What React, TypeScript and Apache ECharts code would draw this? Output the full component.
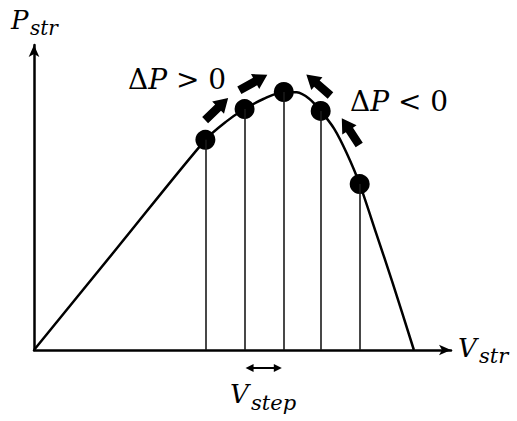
import React, { useEffect, useRef } from "react";
import * as echarts from "echarts";

// P–V curve (voltage vs power) in axis units (0..100)
const curveV = [0, 20.5, 41.1, 46, 50.5, 55, 59.9, 63, 66, 68.75, 72, 75, 78.1, 82, 86, 91.1];
const curveP = [0, 34.4, 68.9, 74.8, 79, 82.3, 84.6, 84.5, 82.4, 78.4, 72.5, 64.5, 54.4, 38.5, 22, 0];

// operating points (perturb & observe steps)
const stepV = [41.1, 50.5, 59.9, 68.75, 78.1];
const stepP = [68.9, 79.0, 84.6, 78.4, 54.4];

// direction arrows
const arrowV = [43.8, 52.6, 68.2, 75.9];
const arrowP = [79.0, 87.7, 86.9, 71.6];
const arrowAngle = [44, 29, 139, 123];

const FONT = "DejaVu Serif";

export default function App() {
  const ref = useRef<HTMLDivElement>(null);
  useEffect(() => {
    if (!ref.current) return;
    const chart = echarts.init(ref.current, null, { renderer: "svg" });
    const option: any = {
      animation: false,
      backgroundColor: "#ffffff",
      grid: { left: 34, right: 66, top: 45, bottom: 71, containLabel: false },
      xAxis: {
        type: "value",
        min: 0,
        max: 100,
        axisLine: { show: true, lineStyle: { color: "#000", width: 2.5 }, symbol: ["none", "arrow"], symbolSize: [8, 12] },
        axisTick: { show: false },
        axisLabel: { show: false },
        splitLine: { show: false },
      },
      yAxis: {
        type: "value",
        min: 0,
        max: 100,
        axisLine: { show: true, lineStyle: { color: "#000", width: 2.5 }, symbol: ["none", "arrow"], symbolSize: [8, 12] },
        axisTick: { show: false },
        axisLabel: { show: false },
        splitLine: { show: false },
      },
      series: [
        {
          type: "line",
          data: curveV.map((v, i) => [v, curveP[i]]),
          smooth: 0.3,
          showSymbol: false,
          symbol: "none",
          lineStyle: { color: "#000", width: 2.5 },
          z: 2,
        },
        {
          type: "scatter",
          data: stepV.map((v, i) => [v, stepP[i]]),
          symbol: "circle",
          symbolSize: 20,
          itemStyle: { color: "#000", opacity: 1 },
          z: 4,
          markLine: {
            silent: true,
            symbol: "none",
            label: { show: false },
            lineStyle: { color: "#1a1a1a", width: 1.6, type: "solid", opacity: 1 },
            data: stepV.map((v, i) => [{ coord: [v, 0] }, { coord: [v, stepP[i]] }]),
          },
        },
        {
          type: "scatter",
          data: arrowV.map((v, i) => ({ value: [v, arrowP[i]], symbolRotate: arrowAngle[i] })),
          symbol: "path://M0,4 L18,4 L18,0 L32,8 L18,16 L18,12 L0,12 Z",
          symbolSize: [32, 17],
          itemStyle: { color: "#000", opacity: 1 },
          z: 5,
        },
      ],
    };
    chart.setOption(option);

    const a = chart.convertToPixel({ gridIndex: 0 }, [stepV[1], 0]) as number[];
    const b = chart.convertToPixel({ gridIndex: 0 }, [stepV[2], 0]) as number[];
    const ay = a[1] + 18;
    const x1 = a[0] + 1;
    const x2 = b[0] - 2;

    const italic = (text: string, x: number, y: number, size: number) => ({
      type: "text",
      x,
      y,
      style: { text, fontFamily: FONT, fontStyle: "italic", fontSize: size, fill: "#000", verticalAlign: "middle", align: "left" },
    });
    const delta = (rel: string, x: number, y: number) => ({
      type: "text",
      x,
      y,
      style: {
        text: `{d|Δ}{i|P}{d| ${rel} 0}`,
        fontFamily: FONT,
        fontSize: 28,
        fill: "#000",
        verticalAlign: "middle",
        align: "left",
        rich: {
          d: { fontFamily: FONT, fontSize: 28, fontStyle: "normal", fill: "#000" },
          i: { fontFamily: FONT, fontSize: 28, fontStyle: "italic", fill: "#000" },
        },
      },
    });

    chart.setOption({
      graphic: [
        italic("P", 11, 20, 26),
        italic("str", 30, 28, 20),
        italic("V", 458, 348, 26),
        italic("str", 479, 356, 21),
        italic("V", 230, 394, 26),
        italic("step", 251, 403, 21),
        delta(">", 128, 79),
        delta("<", 350, 101),
        {
          type: "line",
          shape: { x1: x1 + 4, y1: ay, x2: x2 - 4, y2: ay },
          style: { stroke: "#000", lineWidth: 2 },
        },
        {
          type: "polygon",
          shape: { points: [[x1, ay], [x1 + 8, ay - 4], [x1 + 8, ay + 4]] },
          style: { fill: "#000" },
        },
        {
          type: "polygon",
          shape: { points: [[x2, ay], [x2 - 8, ay - 4], [x2 - 8, ay + 4]] },
          style: { fill: "#000" },
        },
      ],
    });

    return () => chart.dispose();
  }, []);
  return <div ref={ref} style={{ position: "fixed", left: 0, top: 0, width: 517, height: 421 }} />;
}
